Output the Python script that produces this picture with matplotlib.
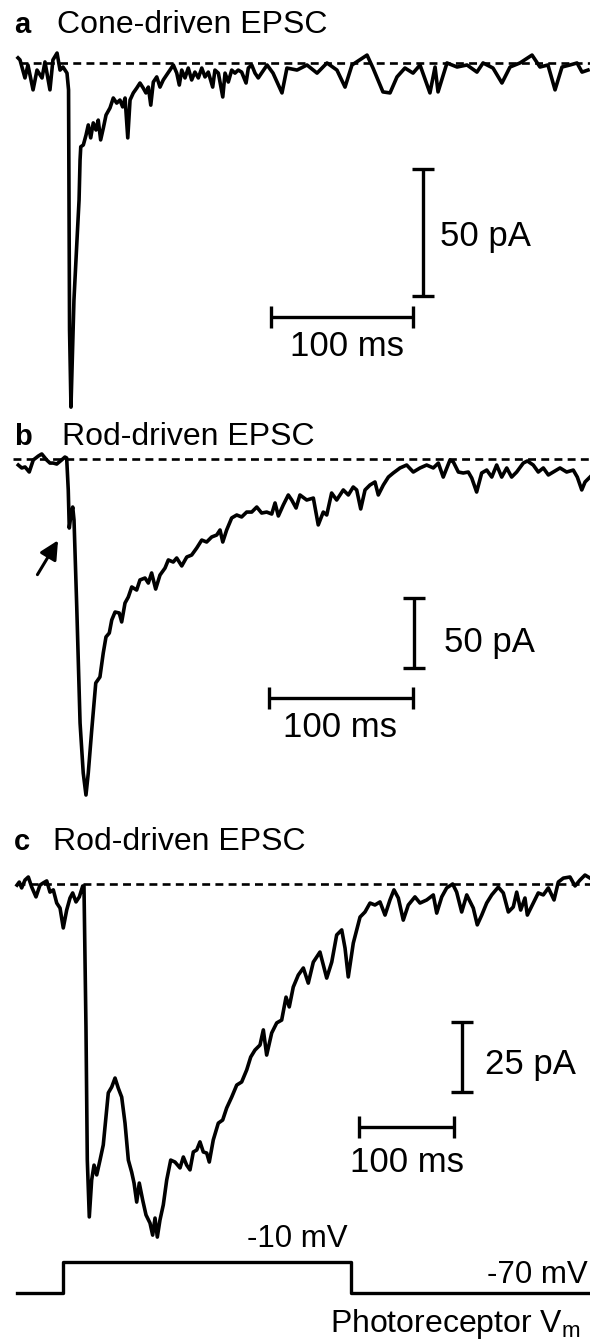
import matplotlib
matplotlib.use("Agg")
import matplotlib.pyplot as plt

plt.rcParams["font.family"] = ["Liberation Sans", "DejaVu Sans"]
plt.rcParams["mathtext.default"] = "regular"

# --- traces: time (ms), current (pA), voltage (mV) ---
a_time = [0, 1.4, 4.9, 7.0, 10.6, 13.4, 16.9, 19.0, 22.5, 24.6, 27.5, 29.6, 31.7, 34.5,
          35.6, 36.3, 37.3, 39.4, 41.8, 43.0, 43.7, 44.2, 46.0, 47.9, 49.5, 51.2, 53.0,
          54.9, 56.5, 58.2, 60.1, 62.0, 64.8, 67.1, 69.5, 71.8, 73.7, 75.4, 77.3, 78.9,
          81.2, 83.6, 85.9, 88.2, 90.1, 91.8, 93.5, 95.3, 97.7, 100.0, 102.3, 104.7,
          107.0, 109.4, 111.8, 113.6, 115.3, 117.6, 119.9, 122.3, 124.6, 127.0, 129.4,
          131.7, 134.0, 137.1, 138.7, 141.1, 144.2, 145.8, 148.1, 150.5, 152.8, 155.1,
          157.5, 160.6, 162.2, 164.6, 166.9, 169.2, 175.4, 179.6, 185.9, 189.4, 196.5,
          203.5, 210.6, 217.6, 224.6, 230.3, 235.2, 245.8, 250.0, 257.0, 262.0, 266.9,
          272.5, 278.2, 283.1, 290.1, 293.7, 295.8, 302.1, 309.2, 316.2, 323.2, 327.5,
          334.5, 340.8, 346.5, 353.5, 362.0, 367.6, 373.2, 378.2, 383.1, 388.7, 393.7,
          397.2, 401.4]
a_current = [1.9, 1.1, -6.0, -0.9, -10.7, -2.9, -6.0, 0.3, -10.7, 1.1, 3.8, -2.9, -1.7, -4.1,
             -10.7, -105.2, -135.6, -93.4, -67.0, -54.1, -38.3, -33.1, -32.4, -28.5, -24.5,
             -29.6, -23.7, -26.5, -22.6, -30.4, -25.7, -20.6, -17.8, -13.9, -15.9, -14.7,
             -17.4, -13.9, -29.6, -14.7, -11.9, -10.0, -8.0, -10.0, -11.9, -9.6, -16.7, -7.6,
             -5.6, -9.6, -6.8, -4.8, -2.9, -0.9, -4.1, -8.8, -2.9, -6.0, -2.1, -6.8, -3.7,
             -6.0, -2.1, -5.6, -3.7, -9.6, -2.9, -4.1, -13.5, -4.1, -7.6, -2.9, -4.1, -2.9,
             -3.7, -8.0, -2.1, -0.9, -4.1, -6.0, -0.9, -4.1, -11.9, -2.1, -2.9, -0.9, -4.1,
             -0.1, -2.9, -9.6, -0.9, 3.0, -2.1, -11.5, -11.9, -5.6, -2.1, -4.1, -0.9, -11.9,
             -1.7, -11.5, -0.1, -1.7, -0.9, -3.7, -0.1, -2.1, -8.0, -1.7, -0.1, 3.0, -1.7,
             -0.9, -10.7, -1.7, -0.9, -0.1, -3.7, -2.9]

b_time = [0.2, 2.6, 4.9, 7.8, 10.6, 14.1, 16.5, 19.9, 22.2, 24.5, 26.9, 30.3, 32.6, 33.8,
          34.9, 35.6, 36.6, 38.0, 38.9, 40.8, 43.1, 45.3, 47.2, 48.8, 51.2, 54.0, 56.9,
          59.2, 61.1, 63.4, 65.1, 67.4, 70.3, 72.0, 74.3, 76.6, 79.0, 82.4, 84.7, 88.2,
          90.5, 92.8, 95.6, 98.6, 102.1, 104.4, 107.8, 110.2, 113.7, 117.2, 120.6, 124.1,
          127.6, 131.0, 134.5, 138.0, 140.3, 142.2, 144.9, 148.4, 151.9, 155.3, 158.8,
          162.3, 165.8, 169.2, 172.7, 176.2, 178.5, 180.8, 184.2, 187.7, 190.1, 193.1,
          195.8, 200.5, 205.1, 208.5, 212.0, 214.4, 217.8, 221.3, 225.9, 229.4, 232.8,
          235.2, 238.0, 241.0, 244.4, 247.9, 250.2, 253.7, 257.2, 260.6, 265.3, 269.9,
          274.5, 279.2, 283.8, 288.4, 291.9, 295.3, 300.0, 302.3, 305.8, 309.2, 312.7,
          315.1, 318.5, 322.0, 325.5, 329.0, 332.4, 335.9, 339.4, 342.8, 346.3, 350.9,
          353.7, 357.8, 361.3, 364.8, 368.3, 371.7, 376.4, 381.0, 385.6, 388.4, 391.5,
          393.8, 397.2]
b_current = [-4.3, -6.4, -5.7, -9.3, -0.7, 2.1, 3.6, -0.7, -2.9, -2.9, -3.6, -0.7, 1.4, 0.7,
             -22.1, -49.3, -41.4, -34.3, -43.6, -105.7, -188.6, -224.3, -240.0, -224.3,
             -193.6, -160.0, -155.7, -138.6, -127.1, -124.3, -115.0, -109.3, -110.0, -116.4,
             -102.9, -98.6, -91.4, -93.6, -86.4, -85.0, -88.6, -81.4, -92.9, -82.9, -77.9,
             -72.1, -73.6, -70.7, -76.4, -70.0, -68.6, -63.6, -57.9, -59.3, -55.7, -54.3,
             -50.7, -59.3, -50.7, -42.1, -40.0, -41.4, -37.9, -37.9, -34.3, -38.6, -37.9,
             -39.3, -31.4, -40.7, -32.9, -25.7, -29.3, -35.0, -25.7, -29.3, -27.9, -47.1,
             -37.9, -40.0, -24.3, -29.3, -22.1, -25.7, -20.0, -22.1, -35.7, -22.1, -18.6,
             -16.4, -25.7, -18.6, -12.9, -10.0, -6.4, -4.3, -9.3, -6.4, -4.3, -6.4, -2.9,
             -12.9, -0.7, -2.1, -9.3, -10.0, -9.3, -13.6, -23.6, -10.0, -7.9, -12.9, -4.3,
             -12.9, -6.4, -12.9, -9.3, -2.9, -1.4, -4.3, -9.3, -6.4, -11.4, -9.3, -6.4, -9.3,
             -7.9, -12.9, -22.1, -16.4, -12.9]

c_time = [0, 2.4, 4.9, 8.4, 11.9, 15.5, 20.0, 24.2, 27.7, 31.3, 34.7, 38.2, 41.8, 45.3,
          48.7, 52.3, 55.8, 58.6, 62.1, 65.6, 69.2, 70.5, 72.6, 74.0, 76.1, 78.6, 81.1,
          83.9, 87.4, 90.8, 93.7, 96.1, 99.7, 103.2, 106.6, 110.2, 113.7, 117.2, 120.7,
          123.2, 126.0, 128.7, 132.3, 135.8, 140.0, 142.8, 145.3, 147.7, 150.5, 154.0,
          157.6, 161.8, 166.3, 171.6, 175.1, 178.6, 182.1, 185.6, 189.2, 192.6, 196.1,
          199.7, 202.4, 206.6, 211.9, 216.5, 220.7, 226.0, 231.3, 236.5, 241.8, 246.0,
          250.5, 255.8, 259.3, 262.8, 268.1, 273.4, 278.6, 283.2, 286.6, 290.8, 296.1,
          301.4, 306.6, 311.9, 318.9, 326.0, 331.3, 336.5, 341.8, 345.3, 348.7, 354.0,
          361.1, 366.3, 371.6, 376.8, 382.1, 387.4, 392.6, 396.8, 401.4, 406.6, 411.9,
          418.9, 424.2, 431.3, 438.2, 441.8, 447.1, 452.3, 458.6, 462.8, 468.1, 473.4,
          480.3, 484.5, 489.2, 494.4, 499.7, 506.6, 511.9, 517.2, 522.4, 526.0, 530.2,
          534.7, 537.2, 543.5, 548.7, 554.0, 559.3, 565.3, 569.8, 575.1, 582.1, 587.4,
          592.6, 597.9, 603.2]
c_current = [-0.4, 0.7, -1.4, 1.4, 2.5, -1.1, -4.6, -0.4, 0.4, 1.1, -2.9, -2.1, -6.8, -8.6,
             -15.7, -9.3, -5.0, -3.2, -6.4, -4.6, -0.7, -0.7, -51.1, -98.6, -118.9, -105.7,
             -100.4, -103.9, -98.6, -93.2, -83.2, -74.6, -72.5, -69.3, -72.9, -76.1, -85.4,
             -98.6, -102.9, -106.8, -113.6, -106.8, -112.9, -118.2, -121.1, -125.4, -119.3,
             -126.1, -120.0, -114.6, -105.7, -98.6, -99.3, -101.4, -97.5, -100.4, -102.1,
             -95.7, -95.0, -92.1, -95.7, -96.1, -99.3, -91.4, -85.4, -84.3, -80.0, -76.1,
             -71.8, -70.7, -66.4, -61.8, -59.3, -57.5, -52.1, -61.1, -53.2, -49.6, -48.6,
             -40.4, -43.9, -36.8, -32.5, -30.0, -35.4, -27.9, -24.3, -33.6, -27.9, -18.2,
             -16.4, -22.9, -33.2, -21.1, -11.8, -10.0, -6.8, -7.5, -6.4, -11.1, -5.7, -2.1,
             -5.0, -12.9, -7.5, -4.6, -6.8, -5.7, -3.9, -10.4, -4.6, -1.4, 0.0, -2.9, -10.0,
             -3.9, -8.6, -14.6, -11.1, -6.8, -3.9, -1.1, -3.2, -10.0, -8.2, -2.9, -9.3, -5.0,
             -11.1, -6.8, -3.2, -3.9, -1.4, -5.7, 0.7, 2.1, 2.5, -0.7, 1.4, 3.2, 2.1]

step_time = [0, 48.4, 48.4, 351.6, 351.6, 603.2]
step_voltage = [-70, -70, -10, -10, -70, -70]

W, H = 590, 1341
fig = plt.figure(figsize=(W / 100, H / 100), dpi=100)


def make_axes(top, bottom, x0, px_per_ms, y0, px_per_unit):
    # axes spanning the full width, scaled so the trace sits where it does in the original
    ax = fig.add_axes([0, 1 - bottom / H, 1, (bottom - top) / H])
    ax.set_xlim(-x0 / px_per_ms, (W - x0) / px_per_ms)
    ax.set_ylim(-(bottom - y0) / px_per_unit, (y0 - top) / px_per_unit)
    ax.axis("off")
    return ax


def scale_bar(ax, t, y, length, horizontal):
    if horizontal:
        xs, ys, m = [t, t + length], [y, y], "|"
    else:
        xs, ys, m = [t, t], [y, y + length], "_"
    ax.plot(xs, ys, color="k", lw=2.4, marker=m, ms=16, mew=2.4,
            solid_capstyle="butt", clip_on=False)


def trace(ax, t, y, t_start, t_end):
    ax.plot([t_start, t_end], [0, 0], color="k", lw=1.9, dashes=(3.0, 2.0), clip_on=False)
    ax.plot(t, y, color="k", lw=2.6, solid_joinstyle="round", clip_on=False)


def title(x, y, letter, text):
    fig.text(14 / W, 1 - y / H, letter, fontsize=21, fontweight="bold", va="baseline")
    fig.text(x / W, 1 - y / H, text, fontsize=23, va="baseline")


ax_a = make_axes(0, 425, 18, 1.42, 62.7, 2.54)
ax_b = make_axes(425, 815, 18, 1.44, 459, 1.4)
ax_c = make_axes(815, 1245, 17, 0.95, 884, 2.8)
ax_v = make_axes(1245, 1341, 17, 0.95, 1293 - 70 * 31 / 60, 31 / 60)

# panel a
trace(ax_a, a_time, a_current, 1.4, 402.8)
scale_bar(ax_a, 285.2, -91.9, 50, horizontal=False)
scale_bar(ax_a, 178.2, -100.1, 100, horizontal=True)
ax_a.text(297.2, -68.6, "50 pA", fontsize=25, va="center")
ax_a.text(231.7, -111.9, "100 ms", fontsize=25, ha="center", va="center")
title(57, 33, "a", "Cone-driven EPSC")

# panel b
trace(ax_b, b_time, b_current, -3.5, 397.2)
scale_bar(ax_b, 275.0, -149.3, 50, horizontal=False)
scale_bar(ax_b, 174.3, -170.7, 100, horizontal=True)
ax_b.text(295.8, -131.4, "50 pA", fontsize=25, va="center")
ax_b.text(223.6, -192.1, "100 ms", fontsize=25, ha="center", va="center")
ax_b.annotate("", xy=(28.8, -56.4), xytext=(12.5, -84.3),
              arrowprops=dict(arrowstyle="-|>", color="k", lw=2.2, mutation_scale=28))
title(62, 445, "b", "Rod-driven EPSC")

# panel c
trace(ax_c, c_time, c_current, 0, 603.2)
scale_bar(ax_c, 468.4, -74.3, 25, horizontal=False)
scale_bar(ax_c, 360.0, -86.8, 100, horizontal=True)
ax_c.text(492.6, -64.6, "25 pA", fontsize=25, va="center")
ax_c.text(410.0, -99.6, "100 ms", fontsize=25, ha="center", va="center")
title(53, 850, "c", "Rod-driven EPSC")

# photoreceptor voltage step
ax_v.plot(step_time, step_voltage, color="k", lw=2.4, clip_on=False)
ax_v.text(294.7, 34.5, "-10 mV", fontsize=22.5, ha="center", va="center")
ax_v.text(601.0, -35.2, "-70 mV", fontsize=22.5, ha="right", va="center")
ax_v.text(593.7, -145.5, "Photoreceptor V$_m$", fontsize=23, ha="right", va="baseline")

fig.savefig("out.png", dpi=100)
